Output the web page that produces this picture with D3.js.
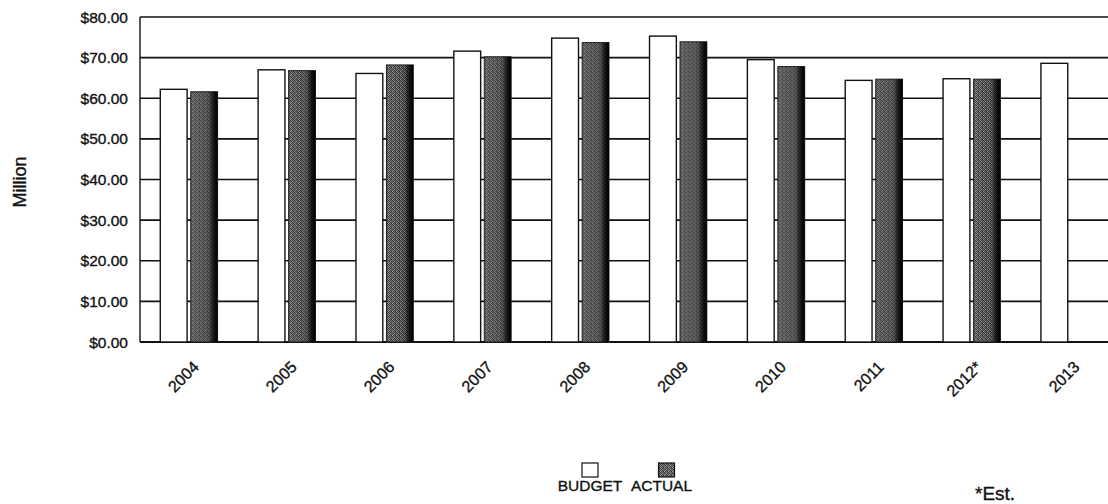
<!doctype html>
<html>
<head>
<meta charset="utf-8">
<script src="https://cdn.jsdelivr.net/npm/d3@7/dist/d3.min.js"></script>
<style>
  body { margin: 0; background: #fff; }
  svg text { font-family: 'Liberation Sans', Arial, Helvetica, sans-serif; fill: #111; stroke: #111; stroke-width: 0.35px; }
</style>
</head>
<body>
<svg id="chart" width="1108" height="504"></svg>
<script>
// data
var years  = ["2004", "2005", "2006", "2007", "2008", "2009", "2010", "2011", "2012*", "2013"];
var budget = [62.2, 67.0, 66.1, 71.6, 74.8, 75.3, 69.5, 64.4, 64.8, 68.6];
var actual = [61.6, 66.8, 68.2, 70.2, 73.7, 73.9, 67.8, 64.7, 64.7, null];
var yTicks = [0, 10, 20, 30, 40, 50, 60, 70, 80];
var legendNames = ["BUDGET", "ACTUAL"];

var svg = d3.select("#chart");
var defs = svg.append("defs");

// stippled grey fill for ACTUAL bars
var pat = defs.append("pattern")
  .attr("id", "stipple")
  .attr("patternUnits", "userSpaceOnUse")
  .attr("width", 4).attr("height", 4);
var dots = [
  ["#3a3a3a", 0, 0], ["#8a8a8a", 1, 0], ["#4e4e4e", 2, 0], ["#6a6a6a", 3, 0],
  ["#787878", 0, 1], ["#2c2c2c", 1, 1], ["#a0a0a0", 2, 1], ["#404040", 3, 1],
  ["#505050", 0, 2], ["#949494", 1, 2], ["#343434", 2, 2], ["#7c7c7c", 3, 2],
  ["#a8a8a8", 0, 3], ["#464646", 1, 3], ["#6e6e6e", 2, 3], ["#262626", 3, 3]
];
dots.forEach(function(d){
  pat.append("rect").attr("x", d[1]).attr("y", d[2]).attr("width", 1).attr("height", 1).attr("fill", d[0]);
});

var shade = defs.append("linearGradient").attr("id", "shade");
shade.append("stop").attr("offset", "0%").attr("stop-color", "#000").attr("stop-opacity", 0);
shade.append("stop").attr("offset", "65%").attr("stop-color", "#000").attr("stop-opacity", 0.15);
shade.append("stop").attr("offset", "86%").attr("stop-color", "#000").attr("stop-opacity", 0.8);
shade.append("stop").attr("offset", "100%").attr("stop-color", "#000").attr("stop-opacity", 1);

// scales
var plotLeft = 140, plotRight = 1118.5, plotTop = 17, plotBottom = 342;

var x = d3.scaleBand().domain(years).range([plotLeft, plotRight]).paddingInner(0).paddingOuter(0);
var xs = d3.scaleBand().domain(legendNames).range([0, 57.3]).paddingInner(0.12);
var y = d3.scaleLinear().domain([0, 80]).range([plotBottom, plotTop]);

// grid lines
svg.append("g").selectAll("line")
  .data(yTicks)
  .enter().append("line")
  .attr("x1", plotLeft).attr("x2", plotRight)
  .attr("y1", function(d){ return y(d); })
  .attr("y2", function(d){ return y(d); })
  .attr("stroke", "#111")
  .attr("stroke-width", function(d){ return d === 0 ? 2.2 : 1.6; });

// left axis line
svg.append("line")
  .attr("x1", plotLeft).attr("x2", plotLeft)
  .attr("y1", y(80)).attr("y2", y(0))
  .attr("stroke", "#111").attr("stroke-width", 1.4);

// y labels
svg.append("g").selectAll("text")
  .data(yTicks)
  .enter().append("text")
  .attr("x", 128)
  .attr("y", function(d){ return y(d) + 5.5; })
  .attr("text-anchor", "end")
  .style("font-size", "15.5px")
  .text(function(d){ return "$" + d3.format(".2f")(d); });

// bars
var groups = svg.append("g").selectAll("g")
  .data(years)
  .enter().append("g")
  .attr("transform", function(d){ return "translate(" + (x(d) + (x.bandwidth() - 57.3) / 2) + ",0)"; });

groups.append("rect")
  .attr("x", xs("BUDGET"))
  .attr("width", xs.bandwidth())
  .attr("y", function(d, i){ return y(budget[i]); })
  .attr("height", function(d, i){ return y(0) - y(budget[i]); })
  .attr("fill", "#fff")
  .attr("stroke", "#111")
  .attr("stroke-width", 1.4);

var act = groups.filter(function(d, i){ return actual[i] != null; });

act.append("rect")
  .attr("x", xs("ACTUAL"))
  .attr("width", xs.bandwidth())
  .attr("y", function(d){ return y(actual[years.indexOf(d)]); })
  .attr("height", function(d){ return y(0) - y(actual[years.indexOf(d)]); })
  .attr("fill", "url(#stipple)")
  .attr("stroke", "#222")
  .attr("stroke-width", 1);

act.append("rect")
  .attr("x", xs("ACTUAL"))
  .attr("width", xs.bandwidth())
  .attr("y", function(d){ return y(actual[years.indexOf(d)]); })
  .attr("height", function(d){ return y(0) - y(actual[years.indexOf(d)]); })
  .attr("fill", "url(#shade)");

// x labels, rotated
svg.append("g").selectAll("text")
  .data(years)
  .enter().append("text")
  .attr("transform", function(d){
    return "translate(" + (x(d) + x.bandwidth() / 2 + 11) + "," + 368 + ") rotate(-45)";
  })
  .attr("text-anchor", "end")
  .style("font-size", "16px")
  .text(function(d){ return d; });

// y title
svg.append("text")
  .attr("transform", "translate(26,182) rotate(-90)")
  .attr("text-anchor", "middle")
  .style("font-size", "18px")
  .text("Million");

// legend
var legend = svg.append("g");
var legendX = [590, 666.5];
var legendLabelX = [590, 661.5];
legend.selectAll("rect")
  .data(legendNames)
  .enter().append("rect")
  .attr("x", function(d, i){ return legendX[i] - 8; })
  .attr("y", 463)
  .attr("width", 16).attr("height", 14)
  .attr("fill", function(d, i){ return i === 0 ? "#fff" : "url(#stipple)"; })
  .attr("stroke", "#111")
  .attr("stroke-width", 1.2);
legend.selectAll("text")
  .data(legendNames)
  .enter().append("text")
  .attr("x", function(d, i){ return legendLabelX[i]; })
  .attr("y", 491)
  .attr("text-anchor", "middle")
  .style("font-size", "15.5px")
  .text(function(d){ return d; });

svg.append("text")
  .attr("x", 975).attr("y", 500)
  .style("font-size", "19px")
  .text("*Est.");
</script>
</body>
</html>
